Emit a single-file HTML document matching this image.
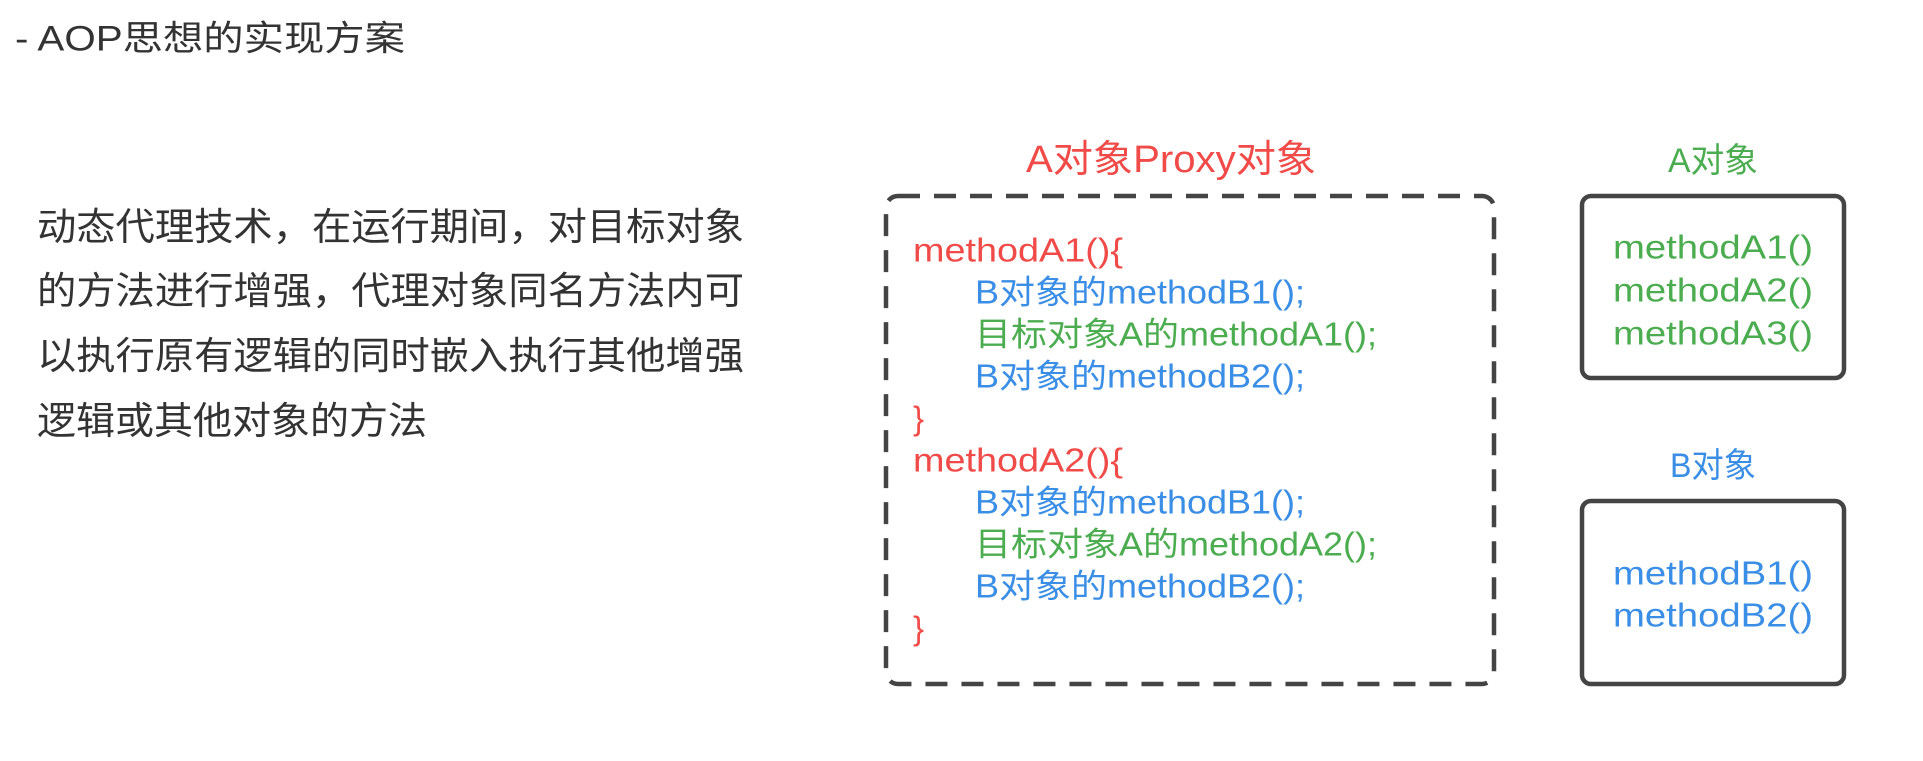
<!DOCTYPE html>
<html><head><meta charset="utf-8"><style>
html,body{margin:0;padding:0;background:#fff;width:1923px;height:761px;overflow:hidden}
svg text{font-family:"Liberation Sans","Noto Sans CJK SC",sans-serif;dominant-baseline:central}
</style></head><body>
<svg width="1923" height="761" xmlns="http://www.w3.org/2000/svg">
<g fill="#333" font-size="35">
<text x="15" y="39" textLength="390" lengthAdjust="spacingAndGlyphs">- AOP思想的实现方案</text>
</g>
<g fill="#333" font-size="38">
<text x="37" y="228" textLength="707" lengthAdjust="spacingAndGlyphs">动态代理技术，在运行期间，对目标对象</text>
<text x="37" y="292" textLength="707" lengthAdjust="spacingAndGlyphs">的方法进行增强，代理对象同名方法内可</text>
<text x="37" y="357" textLength="707" lengthAdjust="spacingAndGlyphs">以执行原有逻辑的同时嵌入执行其他增强</text>
<text x="37" y="422" textLength="390" lengthAdjust="spacingAndGlyphs">逻辑或其他对象的方法</text>
</g>
<text x="1026" y="160" font-size="38" fill="#f04b48" textLength="290" lengthAdjust="spacingAndGlyphs">A对象Proxy对象</text>
<rect x="886" y="196" width="608" height="488" rx="12" fill="none" stroke="#444" stroke-width="4.5" stroke-dasharray="22 14"/>
<g font-size="33">
<text x="913" y="250" fill="#f04b48" textLength="210" lengthAdjust="spacingAndGlyphs">methodA1(){</text>
<text x="975" y="292" fill="#3a8ee6" textLength="330" lengthAdjust="spacingAndGlyphs">B对象的methodB1();</text>
<text x="975" y="334" fill="#4cad50" textLength="402" lengthAdjust="spacingAndGlyphs">目标对象A的methodA1();</text>
<text x="975" y="376" fill="#3a8ee6" textLength="330" lengthAdjust="spacingAndGlyphs">B对象的methodB2();</text>
<text x="913" y="418" fill="#f04b48">}</text>
<text x="913" y="460" fill="#f04b48" textLength="210" lengthAdjust="spacingAndGlyphs">methodA2(){</text>
<text x="975" y="502" fill="#3a8ee6" textLength="330" lengthAdjust="spacingAndGlyphs">B对象的methodB1();</text>
<text x="975" y="544" fill="#4cad50" textLength="402" lengthAdjust="spacingAndGlyphs">目标对象A的methodA2();</text>
<text x="975" y="586" fill="#3a8ee6" textLength="330" lengthAdjust="spacingAndGlyphs">B对象的methodB2();</text>
<text x="913" y="628" fill="#f04b48">}</text>
</g>
<text x="1668" y="161" font-size="34" fill="#4cad50" textLength="90" lengthAdjust="spacingAndGlyphs">A对象</text>
<rect x="1582" y="196" width="262" height="182" rx="9" fill="none" stroke="#444" stroke-width="4.5"/>
<g font-size="33" fill="#4cad50">
<text x="1613" y="247" textLength="200" lengthAdjust="spacingAndGlyphs">methodA1()</text>
<text x="1613" y="290" textLength="200" lengthAdjust="spacingAndGlyphs">methodA2()</text>
<text x="1613" y="333" textLength="200" lengthAdjust="spacingAndGlyphs">methodA3()</text>
</g>
<text x="1670" y="466" font-size="34" fill="#3a8ee6" textLength="86" lengthAdjust="spacingAndGlyphs">B对象</text>
<rect x="1582" y="501" width="262" height="183" rx="9" fill="none" stroke="#444" stroke-width="4.5"/>
<g font-size="33" fill="#3a8ee6">
<text x="1613" y="573" textLength="200" lengthAdjust="spacingAndGlyphs">methodB1()</text>
<text x="1613" y="615" textLength="200" lengthAdjust="spacingAndGlyphs">methodB2()</text>
</g>
</svg>
</body></html>
